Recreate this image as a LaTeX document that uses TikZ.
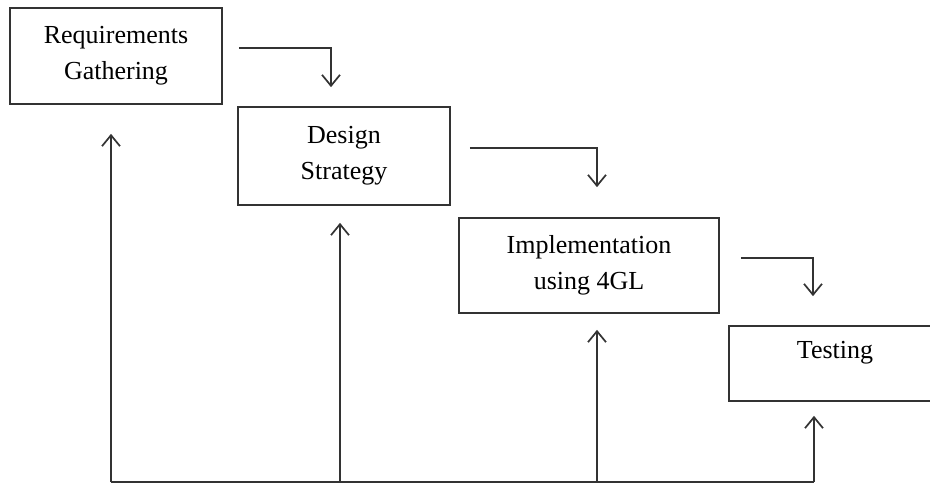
\documentclass[tikz,border=0pt]{standalone}
\usepackage{fontspec}
\setmainfont{Liberation Serif}
\usetikzlibrary{arrows.meta,calc}
\definecolor{ink}{HTML}{333333}
\begin{document}
\begin{tikzpicture}[x=1pt,y=-1pt,
  stage/.style={draw=ink, line width=1.7pt, rectangle, inner sep=0pt,
    align=center, text=black,
    font=\fontsize{26}{36}\selectfont},
  wire/.style={draw=ink, line width=1.7pt},
  flow/.style={wire, -{Straight Barb[length=11pt,width=18pt,line width=1.7pt]}}]
\useasboundingbox (0,0) rectangle (930,484);
\clip (0,0) rectangle (930,484);

% process stages
\node[stage, minimum width=212pt, minimum height=96pt] (req) at (116,56)
  {Requirements\\Gathering};
\node[stage, minimum width=212pt, minimum height=98pt] (des) at (344,156)
  {Design\\Strategy};
\node[stage, minimum width=260pt, minimum height=95pt] (imp) at (589,265.5)
  {Implementation\\using 4GL};
\node[stage, minimum width=212pt, minimum height=75pt,
  text height=18pt, text depth=29pt] (tst) at (835,363.5) {Testing};

% forward steps between stages
\coordinate (s1) at ($(req.north east)+(16,41)$);
\coordinate (e1) at ($(des.north)+(-13,-19)$);
\coordinate (s2) at ($(des.north east)+(19,42)$);
\coordinate (e2) at ($(imp.north)+(8,-30)$);
\coordinate (s3) at ($(imp.north east)+(21,41)$);
\coordinate (e3) at ($(tst.north)+(-22,-29)$);
\draw[flow] (s1) -| (e1);
\draw[flow] (s2) -| (e2);
\draw[flow] (s3) -| (e3);

% feedback bus along the bottom
\coordinate (t1) at ($(req.south)+(-5,29)$);
\coordinate (t2) at ($(des.south)+(-4,17)$);
\coordinate (t3) at ($(imp.south)+(8,16)$);
\coordinate (t4) at ($(tst.south)+(-21,14)$);
\coordinate (b1) at (t1 |- 0,482);
\coordinate (b2) at (t2 |- 0,482);
\coordinate (b3) at (t3 |- 0,482);
\coordinate (b4) at (t4 |- 0,482);
\draw[wire] (b1) -- (b4);
\draw[flow] (b1) -- (t1);
\draw[flow] (b2) -- (t2);
\draw[flow] (b3) -- (t3);
\draw[flow] (b4) -- (t4);
\end{tikzpicture}
\end{document}
